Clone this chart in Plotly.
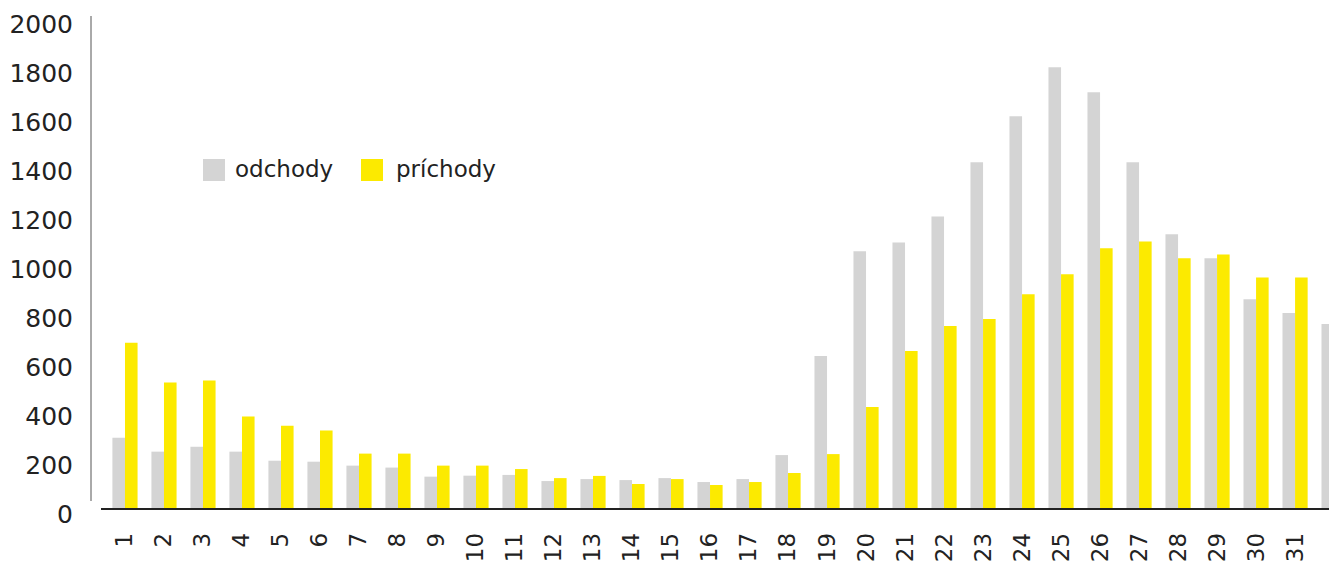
import plotly.graph_objects as go

categories = [str(i) for i in range(1, 33)]
odchody = [287, 230, 250, 230, 193, 189, 173, 165, 128, 132, 135, 110, 118, 114, 122, 106,
           118, 216, 620, 1048, 1084, 1190, 1411, 1599, 1799, 1697, 1411, 1117, 1019, 852, 796, 751]
prichody = [675, 512, 520, 373, 336, 316, 222, 222, 173, 173, 159, 122, 131, 98, 118, 94,
            106, 143, 220, 412, 641, 743, 771, 872, 954, 1060, 1088, 1019, 1035, 941, 941, None]
y_ticks = list(range(0, 2001, 200))

GREY = "#d4d4d4"
YELLOW = "#fcea00"
TEXT = "#222222"
FONT = "DejaVu Sans"

W, H = 1329, 563
L, R, T, B = 101, 0, 18, 55
PW, PH = W - L - R, H - T - B


def px(x):
    return (x - L) / PW


def py(y):
    return (H - B - y) / PH


fig = go.Figure()
fig.add_trace(go.Bar(x=categories, y=odchody, name="odchody", marker_color=GREY,
                     marker_line_width=0, showlegend=False))
fig.add_trace(go.Bar(x=categories, y=prichody, name="príchody", marker_color=YELLOW,
                     marker_line_width=0, showlegend=False))

# y-axis line (detached, slightly short of baseline)
fig.add_shape(type="line", xref="paper", yref="paper",
              x0=px(91), x1=px(91), y0=py(501), y1=py(16),
              line=dict(color="#555555", width=1))

# manual legend
for x0, color, label, tx in [(203, GREY, "odchody", 233), (361, YELLOW, "príchody", 394)]:
    fig.add_shape(type="rect", xref="paper", yref="paper",
                  x0=px(x0), x1=px(x0 + 22), y0=py(181), y1=py(159),
                  fillcolor=color, line_width=0)
    fig.add_annotation(x=px(tx), y=py(169), xref="paper", yref="paper",
                       text=label, showarrow=False, xanchor="left", yanchor="middle",
                       font=dict(family=FONT, size=23, color=TEXT))

fig.update_layout(
    width=W, height=H,
    margin=dict(l=L, r=R, t=T, b=B, pad=0),
    paper_bgcolor="white", plot_bgcolor="white",
    barmode="group", bargap=0.355, bargroupgap=0,
    font=dict(family=FONT, color=TEXT),
    xaxis=dict(type="category", range=[-0.615, 30.87], showgrid=False, zeroline=False,
               showline=True, linecolor="#222222", linewidth=1.5, automargin=False,
               ticks="", tickangle=-90, ticklabelstandoff=14,
               tickfont=dict(family=FONT, size=23, color=TEXT)),
    yaxis=dict(range=[0, 2000], tickvals=y_ticks, showgrid=False, zeroline=False,
               showline=False, ticks="", ticklabelstandoff=27, ticklabelshift=6,
               automargin=False, ticklabeloverflow="allow",
               tickfont=dict(family=FONT, size=25, color=TEXT)),
)

fig.write_html("out.html")
